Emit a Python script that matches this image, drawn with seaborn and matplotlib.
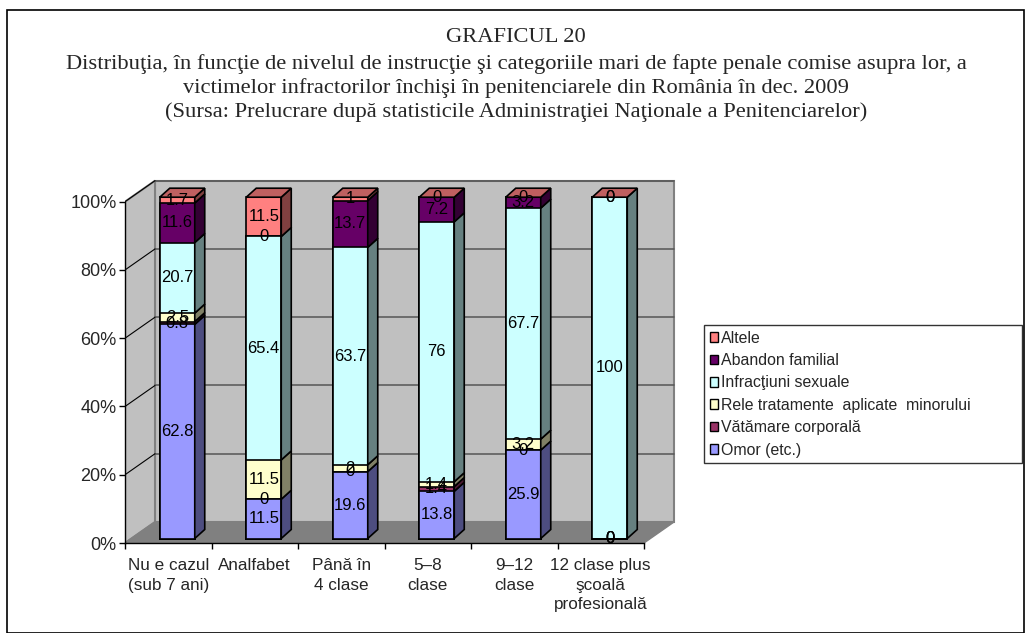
import numpy as np
import pandas as pd
import seaborn as sns
import matplotlib.pyplot as plt
import matplotlib.transforms as mtransforms
from matplotlib.patches import Polygon, Rectangle, Patch
from matplotlib.colors import to_rgb

# ---- data ----
categories = ["Nu e cazul\n(sub 7 ani)", "Analfabet", "Până în\n4 clase",
              "5–8\nclase", "9–12\nclase", "12 clase plus\nşcoală\nprofesională"]
series_names = ["Omor (etc.)", "Vătămare corporală",
                "Rele tratamente  aplicate  minorului", "Infracţiuni sexuale",
                "Abandon familial", "Altele"]
omor = [62.8, 11.5, 19.6, 13.8, 25.9, 0]
vatamare = [0.8, 0, 0, 1.4, 0, 0]
rele = [2.5, 11.5, 2, 1.4, 3.2, 0]
infractiuni = [20.7, 65.4, 63.7, 76, 67.7, 100]
abandon = [11.6, 0, 13.7, 7.2, 3.2, 0]
altele = [1.7, 11.5, 1, 0, 0, 0]
colors = ["#9999FF", "#993366", "#FFFFCC", "#CCFFFF", "#660066", "#FF8080"]

title_lines = [
    "GRAFICUL 20",
    "Distribuţia, în funcţie de nivelul de instrucţie şi categoriile mari de fapte penale comise asupra lor, a",
    "victimelor infractorilor închişi în penitenciarele din România în dec. 2009",
    "(Sursa: Prelucrare după statisticile Administraţiei Naţionale a Penitenciarelor)",
]

values = np.array([omor, vatamare, rele, infractiuni, abandon, altele], dtype=float)
heights = values / values.sum(axis=0) * 100  # 100% stacked
tops = np.cumsum(heights, axis=0)
bottoms = tops - heights

W, H, DPI = 1031, 633, 100
sns.set_theme(style="white")
plt.rcParams["font.family"] = ["Liberation Sans", "DejaVu Sans"]

fig = plt.figure(figsize=(W / DPI, H / DPI), dpi=DPI)
fig.patch.set_facecolor("white")

# axes in pixel terms: front plane 0% at y=543, 100% at y=201.7
px_x, px_y = 86.5, 3.413
left_px, right_px, bottom_px, top_px = 125, 700, 543, 165
ax = fig.add_axes([left_px / W, (H - bottom_px) / H,
                   (right_px - left_px) / W, (bottom_px - top_px) / H])
ax.set_facecolor("none")

# depth offsets (data units)
wall_dx, wall_dy = 30 / px_x, 21 / px_y
bar_dx, bar_dy = 9 / px_x, 4.5 / px_y
side_dx, side_dy = 10 / px_x, 9 / px_y
bar_w = 35 / px_x
n = len(categories)
x0, x1 = -0.5, n - 0.5

def darker(c, f):
    r, g, b = to_rgb(c)
    return (r * f, g * f, b * f)

# walls and floor
ax.add_patch(Polygon([(x0 + wall_dx, wall_dy), (x1 + wall_dx, wall_dy),
                      (x1 + wall_dx, 100 + wall_dy), (x0 + wall_dx, 100 + wall_dy)],
                     closed=True, facecolor="#C0C0C0", edgecolor="#808080", lw=1.5, zorder=0.5))
ax.add_patch(Polygon([(x0, 0), (x0 + wall_dx, wall_dy), (x0 + wall_dx, 100 + wall_dy), (x0, 100)],
                     closed=True, facecolor="#C0C0C0", edgecolor="#808080", lw=1.5, zorder=0.5))
ax.add_patch(Polygon([(x0, 0), (x1, 0), (x1 + wall_dx, wall_dy), (x0 + wall_dx, wall_dy)],
                     closed=True, facecolor="#808080", edgecolor="#808080", lw=1, zorder=0.6))
for k in range(20, 101, 20):
    ax.plot([x0 + wall_dx, x1 + wall_dx], [k + wall_dy, k + wall_dy], color="#555555", lw=1.1, zorder=0.8)
    ax.plot([x0, x0 + wall_dx], [k, k + wall_dy], color="black", lw=0.8, zorder=0.8)

# bars: front faces via seaborn, drawn as cumulative overlays from top series down
trans = mtransforms.Affine2D().translate(bar_dx, bar_dy) + ax.transData
df = pd.DataFrame({"categorie": categories})
for k in range(len(series_names) - 1, -1, -1):
    df["top"] = tops[k]
    sns.barplot(data=df, x="categorie", y="top", order=categories, color=colors[k],
                saturation=1, width=bar_w, edgecolor="black", linewidth=1.2, ax=ax)
    for p in ax.containers[-1].patches:
        p.set_transform(trans)
        p.set_zorder(2)

# side and top faces
for i in range(n):
    xr = i + bar_w / 2
    xl = i - bar_w / 2
    for k in range(len(series_names)):
        b, t = bottoms[k, i], tops[k, i]
        if t - b <= 0:
            continue
        ax.add_patch(Polygon([(xr, b), (xr + side_dx, b + side_dy), (xr + side_dx, t + side_dy), (xr, t)],
                             closed=True, facecolor=darker(colors[k], 0.5), edgecolor="black",
                             lw=1.2, transform=trans, zorder=2))
    T = tops[-1, i]
    ax.add_patch(Polygon([(xl, T), (xr, T), (xr + side_dx, T + side_dy), (xl + side_dx, T + side_dy)],
                         closed=True, facecolor=darker(colors[-1], 0.75), edgecolor="black",
                         lw=1.2, transform=trans, zorder=2))

# value labels
for i in range(n):
    for k in range(len(series_names)):
        mid = (bottoms[k, i] + tops[k, i]) / 2
        ax.text(i, mid, f"{values[k, i]:g}", ha="center", va="center", fontsize=12,
                color="black", transform=trans, zorder=3)

# axes styling
ax.set_xlim(x0, x0 + (right_px - left_px) / px_x)
ax.set_ylim(0, (bottom_px - top_px) / px_y)
ax.set_xlabel("")
ax.set_ylabel("")
for s in ["top", "right"]:
    ax.spines[s].set_visible(False)
ax.spines["left"].set_bounds(0, 100)
ax.spines["bottom"].set_bounds(x0, x1)
for s in ["left", "bottom"]:
    ax.spines[s].set_color("black")
    ax.spines[s].set_linewidth(1)
    ax.spines[s].set_zorder(1)

ax.set_yticks(range(0, 101, 20))
ax.set_yticklabels([f"{v}%" for v in range(0, 101, 20)], fontsize=13)
ax.set_xticks(np.arange(x0, x1 + 0.01, 1.0))
ax.set_xticklabels([])
ax.set_xticks(range(n), minor=True)
ax.set_xticklabels(categories, minor=True, fontsize=12.3, linespacing=1.38)
ax.tick_params(axis="y", which="major", direction="out", length=4, width=1, color="black", left=True, pad=2)
ax.tick_params(axis="x", which="major", direction="out", length=4, width=1, color="black", bottom=True)
ax.tick_params(axis="x", which="minor", length=0, pad=11)

# legend
handles = [Patch(facecolor=colors[k], edgecolor="black", lw=1, label=series_names[k])
           for k in range(len(series_names) - 1, -1, -1)]
leg = fig.legend(handles=handles, loc="upper left",
                 bbox_to_anchor=(704 / W, (H - 468) / H, (1022 - 704) / W, (468 - 325) / H),
                 mode="expand", fontsize=11.4, frameon=True, fancybox=False, shadow=False,
                 handlelength=0.55, handleheight=0.55, handletextpad=0.2, labelspacing=0.47,
                 borderpad=0.35, borderaxespad=0)
leg.get_frame().set_edgecolor("black")
leg.get_frame().set_linewidth(1)

# title block
for line, y in zip(title_lines, [37, 64, 88, 112]):
    fig.text(516 / W, 1 - y / H, line, ha="center", va="center", fontsize=16.2,
             family=["Liberation Serif", "DejaVu Serif"])

# outer frame
fig.patches.append(Rectangle((7 / W, 0), (1024 - 7) / W, (633 - 10) / H, transform=fig.transFigure,
                             fill=False, edgecolor="black", lw=1.2))

fig.savefig("out.png", dpi=DPI)
